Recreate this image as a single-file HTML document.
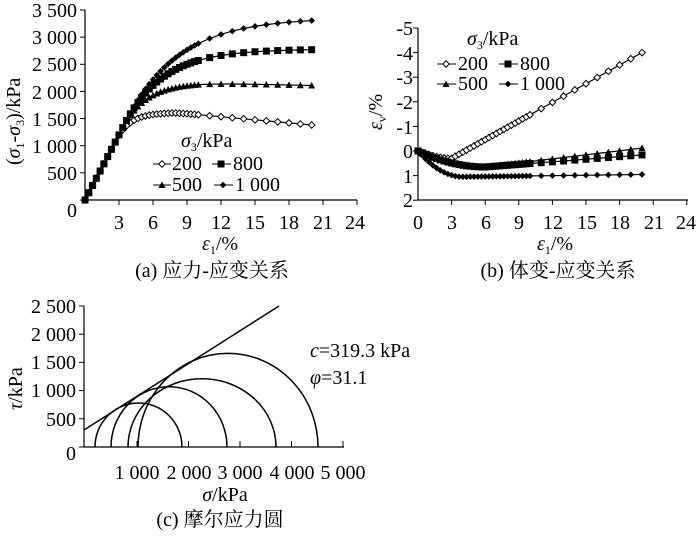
<!DOCTYPE html>
<html><head><meta charset="utf-8"><style>
body{margin:0;background:#fff}
svg text{font-family:"Liberation Serif","Noto Serif CJK SC",serif;fill:#000}
</style></head><body>
<svg id="s" width="700" height="535" xmlns="http://www.w3.org/2000/svg">
<g stroke="#000" stroke-width="1.2" fill="none">
<line x1="85" y1="10" x2="85" y2="200"/><line x1="85" y1="200" x2="357" y2="200"/>
<line x1="418" y1="28" x2="418" y2="200"/><line x1="418" y1="200" x2="688" y2="200"/>
<line x1="84" y1="306" x2="84" y2="447"/><line x1="84" y1="447" x2="344" y2="447"/>
</g>
<g id="dyn"></g>
<g font-size="20" text-anchor="end">
<text x="77" y="17">3 500</text><text x="77" y="44">3 000</text><text x="77" y="71">2 500</text>
<text x="77" y="99">2 000</text><text x="77" y="126">1 500</text><text x="77" y="153">1 000</text>
<text x="77" y="180">500</text><text x="77" y="217">0</text>
</g>
<g font-size="20" text-anchor="middle">
<text x="119" y="229">3</text><text x="153" y="229">6</text><text x="187" y="229">9</text>
<text x="221" y="229">12</text><text x="255" y="229">15</text><text x="289" y="229">18</text>
<text x="323" y="229">21</text><text x="355" y="229">24</text>
<text x="220" y="250"><tspan font-style="italic">ε</tspan><tspan font-size="12" dy="4">1</tspan><tspan dy="-4">/%</tspan></text>
<text x="212" y="277">(a) 应力-应变关系</text>
</g>
<text font-size="20" transform="translate(20,165) rotate(-90)">(<tspan font-style="italic">σ</tspan><tspan font-size="12" dy="4">1</tspan><tspan dy="-4">-</tspan><tspan font-style="italic">σ</tspan><tspan font-size="12" dy="4">3</tspan><tspan dy="-4">)/kPa</tspan></text>
<g font-size="20">
<text x="181" y="147"><tspan font-style="italic">σ</tspan><tspan font-size="12" dy="4">3</tspan><tspan dy="-4">/kPa</tspan></text>
<text x="172" y="170">200</text><text x="233" y="170">800</text>
<text x="172" y="191">500</text><text x="235" y="191">1 000</text>
</g>
<g font-size="20" text-anchor="end">
<text x="413" y="35">-5</text><text x="413" y="60">-4</text><text x="413" y="84">-3</text>
<text x="413" y="109">-2</text><text x="413" y="134">-1</text><text x="413" y="158">0</text>
<text x="413" y="183">1</text><text x="413" y="207">2</text>
</g>
<g font-size="20" text-anchor="middle">
<text x="418" y="229">0</text><text x="452" y="229">3</text><text x="486" y="229">6</text><text x="519" y="229">9</text>
<text x="553" y="229">12</text><text x="587" y="229">15</text><text x="620" y="229">18</text>
<text x="654" y="229">21</text><text x="686" y="229">24</text>
<text x="555" y="250"><tspan font-style="italic">ε</tspan><tspan font-size="12" dy="4">1</tspan><tspan dy="-4">/%</tspan></text>
<text x="558" y="277">(b) 体变-应变关系</text>
</g>
<text font-size="20" transform="translate(382,130) rotate(-90)"><tspan font-style="italic">ε</tspan><tspan font-size="12" dy="4">v</tspan><tspan dy="-4">/%</tspan></text>
<g font-size="20">
<text x="467" y="45"><tspan font-style="italic">σ</tspan><tspan font-size="12" dy="4">3</tspan><tspan dy="-4">/kPa</tspan></text>
<text x="458" y="70">200</text><text x="520" y="70">800</text>
<text x="458" y="90">500</text><text x="520" y="90">1 000</text>
</g>
<g font-size="20" text-anchor="end">
<text x="76" y="313">2 500</text><text x="76" y="341">2 000</text><text x="76" y="369">1 500</text>
<text x="76" y="397">1 000</text><text x="76" y="426">500</text><text x="76" y="460">0</text>
</g>
<g font-size="20" text-anchor="middle">
<text x="137" y="479">1 000</text><text x="189" y="479">2 000</text><text x="240" y="479">3 000</text>
<text x="292" y="479">4 000</text><text x="343" y="479">5 000</text>
<text x="225" y="501"><tspan font-style="italic">σ</tspan>/kPa</text>
<text x="220" y="526">(c) 摩尔应力圆</text>
</g>
<text font-size="20" transform="translate(22,410) rotate(-90)"><tspan font-style="italic">τ</tspan>/kPa</text>
<g font-size="20">
<text x="310" y="357"><tspan font-style="italic">c</tspan>=319.3 kPa</text>
<text x="310" y="384"><tspan font-style="italic">φ</tspan>=31.1</text>
</g>
<g stroke="#000" stroke-width="1.5" fill="none">
<line x1="84" y1="430" x2="279" y2="306"/>
<path d="M95,447 A43.5,44 0 0 1 182,447"/>
<path d="M111,447 A58,60.3 0 0 1 227,447"/>
<path d="M128,447 A74,68.3 0 0 1 276,447"/>
<path d="M138,447 A90,93.7 0 0 1 318,447"/>
</g>
</svg>
<script>
var g=document.getElementById('dyn'),h='';
for(var v=0;v<=3500;v+=500){var y=200-v*190/3500;h+='<line x1="80" y1="'+y+'" x2="85" y2="'+y+'" stroke="#000"/>';}
for(var i=1;i<=8;i++){var x=85+i*34;h+='<line x1="'+x+'" y1="200" x2="'+x+'" y2="205" stroke="#000"/>';}
for(var v=-5;v<=2;v++){var y=151+v*24.6;h+='<line x1="413" y1="'+y+'" x2="418" y2="'+y+'" stroke="#000"/>';}
for(var i=1;i<=8;i++){var x=418+i*33.6;h+='<line x1="'+x+'" y1="200" x2="'+x+'" y2="205" stroke="#000"/>';}
for(var v=0;v<=2500;v+=500){var y=447-v*141/2500;h+='<line x1="79" y1="'+y+'" x2="84" y2="'+y+'" stroke="#000"/>';}
for(var i=1;i<=5;i++){var x=85.5+i*51.5;h+='<line x1="'+x+'" y1="447" x2="'+x+'" y2="441" stroke="#000"/>';}
function mk(t,x,y){
 if(t==0)return '<path d="M'+(x-3.3)+','+y+'L'+x+','+(y-3.3)+'L'+(x+3.3)+','+y+'L'+x+','+(y+3.3)+'Z" fill="#fff" stroke="#000" stroke-width="1"/>';
 if(t==1)return '<path d="M'+(x-3.5)+','+(y+3)+'L'+x+','+(y-3.5)+'L'+(x+3.5)+','+(y+3)+'Z" fill="#000"/>';
 if(t==2)return '<rect x="'+(x-3.5)+'" y="'+(y-3.5)+'" width="7" height="7" fill="#000"/>';
 return '<path d="M'+(x-3.3)+','+y+'L'+x+','+(y-3.3)+'L'+(x+3.3)+','+y+'L'+x+','+(y+3.3)+'Z" fill="#000"/>';
}
function series(fn,t,X,Y){var pts=[],es=[];
 for(var k=0;k<=30;k++)es.push(k/3);
 for(var k=11;k<=20;k++)es.push(k);
 es.forEach(e=>pts.push([X(e),Y(fn(e))]));
 var d='M'+pts.map(p=>p[0].toFixed(1)+','+p[1].toFixed(1)).join('L');
 h+='<path d="'+d+'" fill="none" stroke="#000" stroke-width="1.2"/>';
 pts.forEach(p=>h+=mk(t,p[0],p[1]));}
function sat(e,e0,P,peak){ // linear 400/unit until e0 then smooth approach
 var v0=400*e0; if(e<=e0)return 400*e;
 var k=400/(P-v0); return P-(P-v0)*Math.exp(-k*(e-e0));}
var Xa=e=>85+e*34/3,Ya=v=>200-v*190/3500;
series(e=>{var v=sat(e,2.8,1610);return e>8?v-(e-8)*19:v;},0,Xa,Ya);
series(e=>{var v=sat(e,3.3,2160);return e>10?v-(e-10)*5:v;},1,Xa,Ya);
series(e=>sat(e,3.5,2780),2,Xa,Ya);
series(e=>sat(e,3.8,3360),3,Xa,Ya);
var Xb=e=>418+e*11.2,Yb=v=>151+v*24.6;
series(e=>e<3?0.3*Math.sin(e/3*Math.PI/2):0.3-(e-3)*0.253,0,Xb,Yb);
series(e=>e<6?0.65*(1-Math.pow(1-e/6,2)):0.65-(e-6)*0.055,1,Xb,Yb);
series(e=>e<6?0.65*(1-Math.pow(1-e/6,2)):0.65-(e-6)*0.035,2,Xb,Yb);
series(e=>e<4?1.05*(1-Math.pow(1-e/4,2)):1.05-(e-4)*0.006,3,Xb,Yb);
h+='<line x1="153" y1="164" x2="171" y2="164" stroke="#000"/>'+mk(0,162,164);
h+='<line x1="212" y1="164" x2="231" y2="164" stroke="#000"/>'+mk(2,221,164);
h+='<line x1="153" y1="185" x2="171" y2="185" stroke="#000"/>'+mk(1,162,185);
h+='<line x1="214" y1="185" x2="233" y2="185" stroke="#000"/>'+mk(3,223,185);
h+='<line x1="437" y1="64" x2="456" y2="64" stroke="#000"/>'+mk(0,446,64);
h+='<line x1="499" y1="64" x2="518" y2="64" stroke="#000"/>'+mk(2,508,64);
h+='<line x1="437" y1="84" x2="456" y2="84" stroke="#000"/>'+mk(1,446,84);
h+='<line x1="499" y1="84" x2="518" y2="84" stroke="#000"/>'+mk(3,508,84);
g.innerHTML=h;
</script>
</body></html>
